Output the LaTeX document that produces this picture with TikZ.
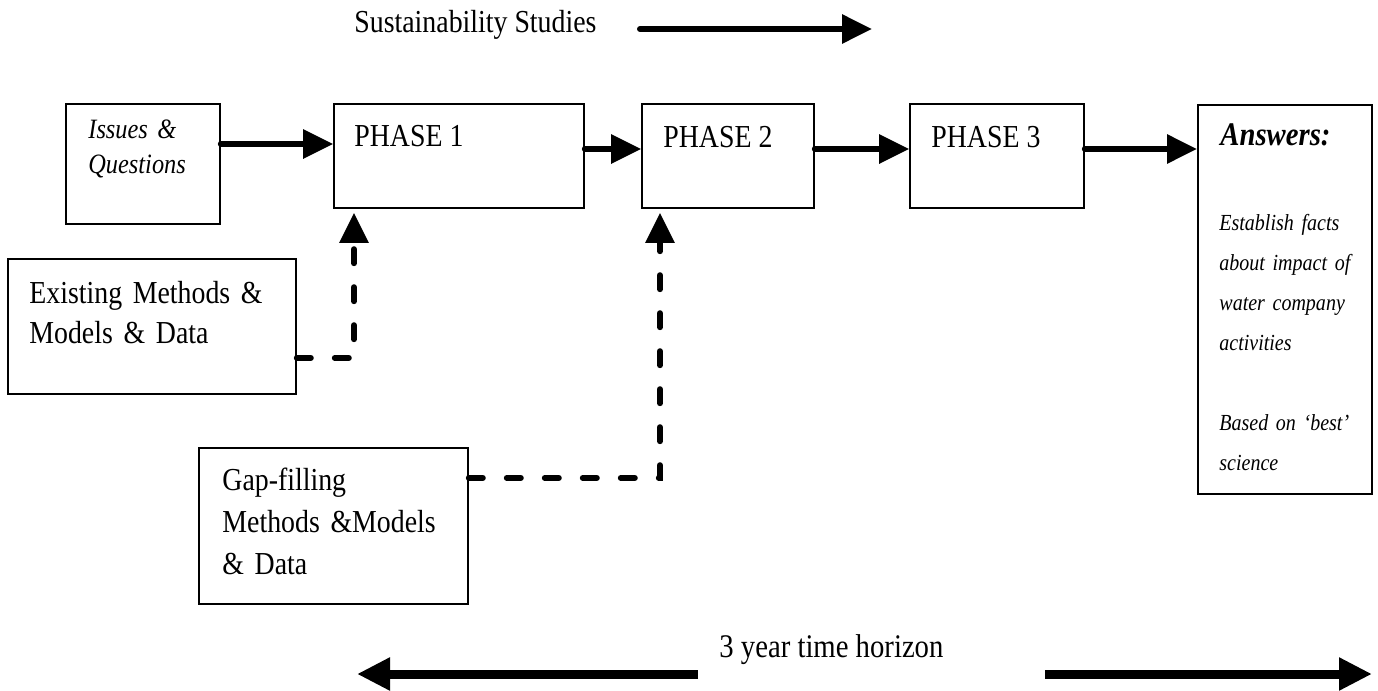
\documentclass[tikz,border=0pt]{standalone}
\usepackage{fontspec}
\setmainfont{Liberation Serif}[FakeStretch=0.87]
\usetikzlibrary{arrows.meta}

\tikzset{
  box/.style={draw, line width=0.8pt, inner sep=0pt},
  txt/.style={anchor=base west, inner sep=0pt},
  big/.style={font=\fontsize{16}{20}\selectfont},
  flow/.style={line width=3pt, line cap=round, -{Triangle[length=15pt,width=14pt]}},
  dflow/.style={flow, dash pattern=on 7pt off 12pt, shorten >=2pt},
  wide/.style={line width=4.5pt, -{Triangle[length=16.5pt,width=15.5pt]}}
}

\begin{document}
\begin{tikzpicture}[x=0.5pt, y=-0.5pt]
\useasboundingbox (0,0) rectangle (1378,691);

\node[box, minimum width=77pt, minimum height=60pt] (iq) at (143,164) {};
\node[box, minimum width=125pt, minimum height=52pt] (p1) at (459,156) {};
\node[box, minimum width=86pt, minimum height=52pt] (p2) at (728,156) {};
\node[box, minimum width=87pt, minimum height=52pt] (p3) at (997,156) {};
\node[box, line width=1pt, minimum width=87pt, minimum height=194.5pt] (ans) at (1285,299.5) {};
\node[box, minimum width=144pt, minimum height=67.5pt] (em) at (152,326.5) {};
\node[box, minimum width=134.5pt, minimum height=78pt] (gap) at (333.5,526) {};

\node[txt, text width=70pt, font=\itshape\fontsize{14}{17.5}\selectfont] (iqt) at (88,138) {Issues \&\\Questions};
\node[txt, big] (p1t) at (354,146) {PHASE 1};
\node[txt, big] (p2t) at (663,147) {PHASE 2};
\node[txt, big] (p3t) at (931,147) {PHASE 3};
\node[txt, text width=135pt, big] (emt) at (29,303) {Existing Methods \&\\Models \& Data};
\node[txt, text width=125pt, font=\fontsize{16}{21}\selectfont] (gapt) at (222,490) {Gap-filling\\Methods \&Models\\\& Data};
\node[txt, font=\bfseries\itshape\fontsize{16.5}{20}\selectfont] (anst) at (1220,145) {Answers:};
\node[txt, text width=80pt, font=\itshape\fontsize{11.5}{20}\selectfont] (ansb) at (1219,230)
  {Establish facts\\about impact of\\water company\\activities\\[20pt]Based on ‘best’\\science};

\node[txt, big] (ss) at (354,32) {Sustainability Studies};
\node[txt, font=\fontsize{16.5}{20}\selectfont] (hz) at (719,657) {3 year time horizon};

\coordinate (ssA) at (640,29);
\coordinate (ssB) at (872,29);
\coordinate (hzA) at (698,674);
\coordinate (hzB) at (357,674);
\coordinate (hzC) at (1045,674);
\coordinate (hzD) at (1372,674);

\draw[flow] (iq.east |- 0,144) -- (p1.west |- 0,144);
\draw[flow] (p1.east |- 0,149) -- (p2.west |- 0,149);
\draw[flow] (p2.east |- 0,149) -- (p3.west |- 0,149);
\draw[flow] (p3.east |- 0,149) -- (ans.west |- 0,149);

\draw[dflow] (em.east |- 0,358) -| (p1.south -| 354,0);
\draw[dflow] (gap.east |- 0,478) -| (p2.south -| 660,0);

\draw[flow] (ssA) -- (ssB);
\draw[wide] (hzA) -- (hzB);
\draw[wide] (hzC) -- (hzD);
\end{tikzpicture}
\end{document}
